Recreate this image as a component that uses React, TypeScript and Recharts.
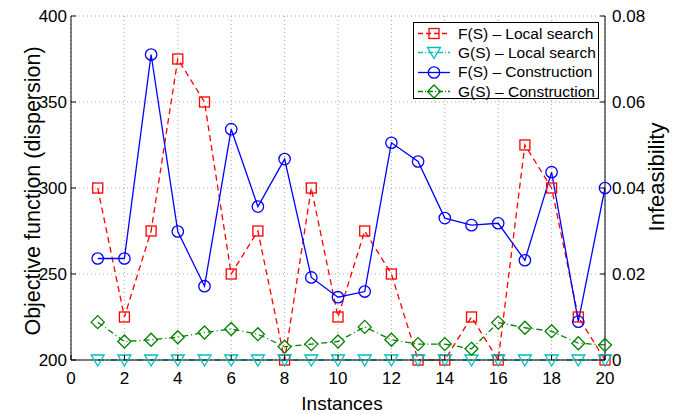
import React from 'react';
import { LineChart, Line, XAxis, YAxis, CartesianGrid, Legend } from 'recharts';

const instances = [1, 2, 3, 4, 5, 6, 7, 8, 9, 10, 11, 12, 13, 14, 15, 16, 17, 18, 19, 20];
const fLocal = [300, 225, 275, 375, 350, 250, 275, 200, 300, 225, 275, 250, 200, 200, 225, 200, 325, 300, 225, 200];
const gLocal = [0, 0, 0, 0, 0, 0, 0, 0, 0, 0, 0, 0, 0, 0, 0, 0, 0, 0, 0, 0];
const fConstr = [259, 259, 377.6, 274.7, 242.9, 334.2, 289.2, 316.8, 248, 236.5, 239.8, 326.3, 315.4, 282.5, 278.4, 279.5, 258, 309.2, 222.3, 300];
const gConstr = [0.0088, 0.0043, 0.0047, 0.0053, 0.0064, 0.0072, 0.006, 0.0031, 0.0037, 0.0043, 0.0077, 0.0047, 0.0037, 0.0037, 0.0026, 0.0087, 0.0075, 0.0067, 0.0039, 0.0035];
const xTicks = [0, 2, 4, 6, 8, 10, 12, 14, 16, 18, 20];
const leftTicks = [200, 250, 300, 350, 400];
const rightTicks = [0, 0.02, 0.04, 0.06, 0.08];

const data = instances.map((x, i) => ({ x, fls: fLocal[i], gls: gLocal[i], fc: fConstr[i], gc: gConstr[i] }));

const FONT = 'Liberation Sans, Arial, Helvetica, sans-serif';
const RED = '#ff0000';
const CYAN = '#00bfbf';
const BLUE = '#0000ff';
const GREEN = '#008000';
const LW = 1.3;

const Square = ({ cx, cy }: any) => <rect x={cx - 5} y={cy - 5} width={10} height={10} fill="none" stroke={RED} strokeWidth={LW} />;
const Tri = ({ cx, cy }: any) => <path d={`M${cx - 6.5},${cy - 5} L${cx + 6.5},${cy - 5} L${cx},${cy + 6} Z`} fill="none" stroke={CYAN} strokeWidth={LW} />;
const Circ = ({ cx, cy }: any) => <circle cx={cx} cy={cy} r={5.7} fill="none" stroke={BLUE} strokeWidth={LW} />;
const Diam = ({ cx, cy }: any) => <path d={`M${cx},${cy - 6.5} L${cx + 6.5},${cy} L${cx},${cy + 6.5} L${cx - 6.5},${cy} Z`} fill="none" stroke={GREEN} strokeWidth={LW} />;

const dotFn = (Comp: any, name: string) => (p: any) => <Comp key={`${name}-${p.index}`} cx={p.cx} cy={p.cy} />;

const LeftTick = ({ x, y, payload }: any) => (
  <g>
    <text x={x} y={y} dy="0.355em" textAnchor="end" fontSize={17} fontFamily={FONT} fill="#000">{payload.value}</text>
    <line x1={x + 4} x2={x + 9} y1={y} y2={y} stroke="#000" />
  </g>
);
const RightTick = ({ x, y, payload }: any) => (
  <g>
    <text x={x} y={y} dy="0.355em" textAnchor="start" fontSize={17} fontFamily={FONT} fill="#000">{payload.value === 0 ? '0' : String(payload.value)}</text>
    <line x1={x - 7} x2={x - 12} y1={y} y2={y} stroke="#000" />
  </g>
);
const BottomTick = ({ x, y, payload }: any) => (
  <g>
    <text x={x} y={y} dy="0.71em" textAnchor="middle" fontSize={17} fontFamily={FONT} fill="#000">{payload.value}</text>
    <line x1={x} x2={x} y1={y - 12} y2={y - 17} stroke="#000" />
  </g>
);
const TopTick = ({ x, y }: any) => <line x1={x} x2={x} y1={y} y2={y + 5} stroke="#000" />;

const legendItems = [
  { label: 'F(S) \u2013 Local search', color: RED, dash: '5 3', Marker: Square },
  { label: 'G(S) \u2013 Local search', color: CYAN, dash: '5 2 1 2', Marker: Tri },
  { label: 'F(S) \u2013 Construction', color: BLUE, dash: undefined, Marker: Circ },
  { label: 'G(S) \u2013 Construction', color: GREEN, dash: '5 2 1 2', Marker: Diam },
];

const renderLegend = () => (
  <div style={{ border: '1px solid #000', background: '#fff', width: 186, height: 77, boxSizing: 'border-box', paddingTop: 1 }}>
    {legendItems.map((it) => (
      <div key={it.label} style={{ display: 'flex', alignItems: 'center', height: 19.3 }}>
        <svg width={42} height={19} style={{ flex: 'none' }}>
          <line x1={4} x2={36} y1={9.5} y2={9.5} stroke={it.color} strokeDasharray={it.dash} strokeWidth={LW} />
          <it.Marker cx={20} cy={9.5} />
        </svg>
        <span style={{ fontFamily: FONT, fontSize: 15.5, color: '#000', whiteSpace: 'nowrap', marginLeft: 2 }}>{it.label}</span>
      </div>
    ))}
  </div>
);

const LeftLabel = ({ viewBox }: any) => (
  <text x={viewBox.x + 33} y={viewBox.y + viewBox.height / 2 + 3} transform={`rotate(-90 ${viewBox.x + 33} ${viewBox.y + viewBox.height / 2 + 3})`} textAnchor="middle" dominantBaseline="central" fontSize={21.5} fontFamily={FONT} fill="#000">Objective function (dispersion)</text>
);
const RightLabel = ({ viewBox }: any) => (
  <text x={viewBox.x + 51} y={viewBox.y + viewBox.height / 2 - 11} transform={`rotate(-90 ${viewBox.x + 51} ${viewBox.y + viewBox.height / 2 - 11})`} textAnchor="middle" dominantBaseline="central" fontSize={22} fontFamily={FONT} fill="#000">Infeasibility</text>
);
const BottomLabel = ({ viewBox }: any) => (
  <text x={viewBox.x + viewBox.width / 2 + 4} y={viewBox.y + 50} textAnchor="middle" fontSize={19} fontFamily={FONT} fill="#000">Instances</text>
);

export default function App() {
  return (
    <div style={{ position: 'absolute', left: 0, top: 0, width: 678, height: 414, background: '#fff' }}>
      <LineChart width={678} height={414} data={data} margin={{ top: 16, right: 0, bottom: 0, left: 0 }}>
        <CartesianGrid stroke="#aaa" strokeDasharray="1 3" yAxisId="left" />
        <XAxis dataKey="x" type="number" domain={[0, 20]} ticks={xTicks} height={54} tickSize={4} tickMargin={8} tickLine={false} axisLine={{ stroke: '#000' }} tick={BottomTick} interval={0} label={<BottomLabel />} />
        <XAxis xAxisId="top" orientation="top" type="number" domain={[0, 20]} ticks={xTicks} height={0} tickSize={0} tickMargin={0} tickLine={false} axisLine={{ stroke: '#000' }} tick={TopTick} interval={0} />
        <YAxis yAxisId="left" domain={[200, 400]} ticks={leftTicks} width={71} tickSize={4} tickMargin={0} tickLine={false} axisLine={{ stroke: '#000' }} tick={LeftTick} interval={0} label={<LeftLabel />} />
        <YAxis yAxisId="right" orientation="right" domain={[0, 0.08]} ticks={rightTicks} width={73} tickSize={4} tickMargin={3} tickLine={false} axisLine={{ stroke: '#000' }} tick={RightTick} interval={0} label={<RightLabel />} />
        <Line yAxisId="left" dataKey="fls" stroke={RED} strokeWidth={LW} strokeDasharray="6 4" dot={dotFn(Square, 'fls')} activeDot={false} isAnimationActive={false} />
        <Line yAxisId="right" dataKey="gls" stroke={CYAN} strokeWidth={LW} strokeDasharray="6 3 1 3" dot={dotFn(Tri, 'gls')} activeDot={false} isAnimationActive={false} />
        <Line yAxisId="left" dataKey="fc" stroke={BLUE} strokeWidth={LW} dot={dotFn(Circ, 'fc')} activeDot={false} isAnimationActive={false} />
        <Line yAxisId="right" dataKey="gc" stroke={GREEN} strokeWidth={LW} strokeDasharray="6 3 1 3" dot={dotFn(Diam, 'gc')} activeDot={false} isAnimationActive={false} />
        <Legend content={renderLegend} layout="horizontal" verticalAlign="middle" align="center" wrapperStyle={{ position: 'absolute', left: 413, top: 22, width: 186, height: 77 }} />
      </LineChart>
    </div>
  );
}
